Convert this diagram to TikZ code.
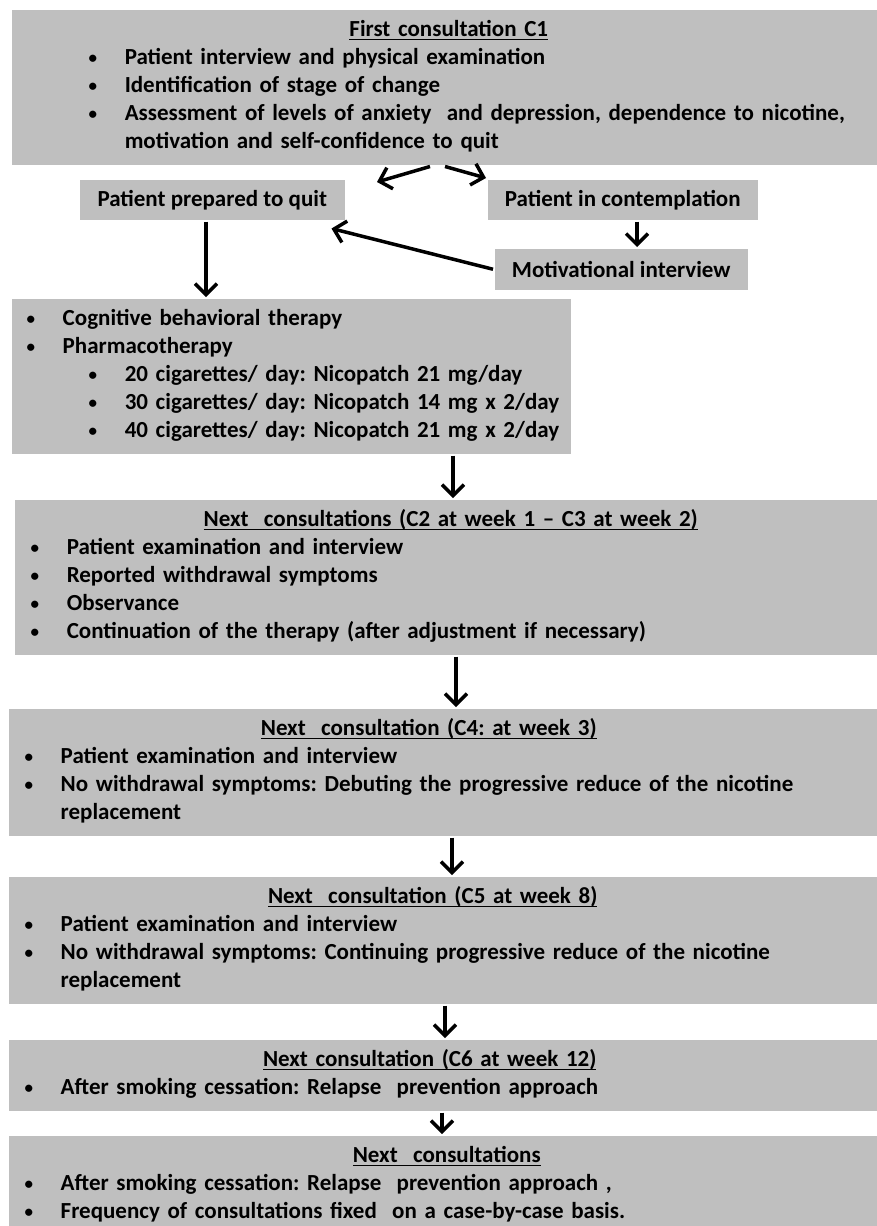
\documentclass[tikz,border=0pt]{standalone}
\usepackage{fontspec}
\setmainfont{Carlito}
\usetikzlibrary{arrows.meta}
\definecolor{boxgray}{RGB}{191,191,191}
\frenchspacing
% underlined heading, bullet line, continuation line
\newcommand{\ttl}[1]{\setbox0=\hbox{#1}\rlap{\rule[-3.5pt]{\wd0}{1.4pt}}\box0}
\newcommand{\hd}[2]{\makebox[#1][c]{\ttl{#2}}}
\newcommand{\dotb}{\raisebox{1.5pt}{\fontsize{17}{17}\selectfont\textbullet}}
\newcommand{\itm}[2]{\hspace*{#1}\makebox[36pt][l]{\dotb}#2}
\newcommand{\cnt}[2]{\hspace*{#1}\hspace*{36pt}#2}

\begin{document}
\begin{tikzpicture}[>={Straight Barb[length=11pt,width=22pt]},line width=3.5pt,x=1pt,y=-1pt,
  font=\bfseries\fontsize{23}{28}\selectfont,
  box/.style={fill=boxgray,anchor=north west,inner xsep=0pt,inner ysep=7.5pt,text width=#1,align=left},
  smallbox/.style={fill=boxgray,anchor=north west,inner sep=0pt,minimum width=#1,minimum height=40pt}]
\useasboundingbox (0,0) rectangle (876,1226);
% ---- first consultation ----
\node[box=875pt] (c1) at (10,8) {\begin{tabular}{@{}l@{}}
  \hd{874pt}{First consultation C1}\\
  \itm{77pt}{Patient interview and physical examination}\\
  \itm{77pt}{Identification of stage of change}\\
  \itm{77pt}{\makebox[750pt][s]{Assessment of levels of anxiety\ \ and depression, dependence to nicotine,}}\\
  \cnt{77pt}{motivation and self-confidence to quit}
\end{tabular}};
% ---- stage of change ----
\node[smallbox=265pt] (prep) at (78,178) {Patient prepared to quit};
\node[smallbox=270pt] (cont) at (486,178) {Patient in contemplation};
\node[smallbox=253pt,minimum height=41pt] (motiv) at (493,247) {Motivational interview};
\coordinate (splitL) at (377,182);
\draw[->] (c1.south -| 430,0) -- (splitL);
\draw[->] (c1.south -| 445,0) -- (cont.north west);
\draw[->] (cont.south -| 637,0) -- (motiv.north -| 637,0);
\draw[->] (motiv.west) -- ([xshift=-15pt,yshift=-7pt]prep.south east);
% ---- therapy ----
\node[box=559pt] (ther) at (10,297) {\begin{tabular}{@{}l@{}}
  \itm{15pt}{Cognitive behavioral therapy}\\
  \itm{15pt}{Pharmacotherapy}\\
  \itm{77pt}{20 cigarettes/ day: Nicopatch 21 mg/day}\\
  \itm{77pt}{30 cigarettes/ day: Nicopatch 14 mg x 2/day}\\
  \itm{77pt}{40 cigarettes/ day: Nicopatch 21 mg x 2/day}
\end{tabular}};
\draw[->] (prep.south -| 206,0) -- (ther.north -| 206,0);
% ---- follow-up consultations ----
\node[box=872pt] (c2) at (13,498) {\begin{tabular}{@{}l@{}}
  \hd{872pt}{Next\ \ consultations (C2 at week 1 -- C3 at week 2)}\\
  \itm{16pt}{Patient examination and interview}\\
  \itm{16pt}{Reported withdrawal symptoms}\\
  \itm{16pt}{Observance}\\
  \itm{16pt}{Continuation of the therapy (after adjustment if necessary)}
\end{tabular}};
\node[box=878pt] (c4) at (7,707) {\begin{tabular}{@{}l@{}}
  \hd{840pt}{Next\ \ consultation (C4: at week 3)}\\
  \itm{16pt}{Patient examination and interview}\\
  \itm{16pt}{No withdrawal symptoms: Debuting the progressive reduce of the nicotine}\\
  \cnt{16pt}{replacement}
\end{tabular}};
\node[box=878pt] (c5) at (7,875) {\begin{tabular}{@{}l@{}}
  \hd{848pt}{Next\ \ consultation (C5 at week 8)}\\
  \itm{16pt}{Patient examination and interview}\\
  \itm{16pt}{No withdrawal symptoms: Continuing progressive reduce of the nicotine}\\
  \cnt{16pt}{replacement}
\end{tabular}};
\node[box=878pt] (c6) at (7,1038) {\begin{tabular}{@{}l@{}}
  \hd{842pt}{Next consultation (C6 at week 12)}\\
  \itm{16pt}{After smoking cessation: Relapse\ \ prevention approach}
\end{tabular}};
\node[box=878pt] (last) at (7,1134) {\begin{tabular}{@{}l@{}}
  \hd{876pt}{Next\ \ consultations}\\
  \itm{16pt}{After smoking cessation: Relapse\ \ prevention approach ,}\\
  \itm{16pt}{Frequency of consultations fixed\ \ on a case-by-case basis.}
\end{tabular}};
\draw[->] (ther.south -| 453,0) -- (c2.north -| 453,0);
\draw[->] (c2.south -| 456,0) -- (c4.north -| 456,0);
\draw[->] (c4.south -| 452,0) -- (c5.north -| 452,0);
\draw[->] (c5.south -| 445,0) -- (c6.north -| 445,0);
\draw[->] (c6.south -| 442,0) -- (last.north -| 442,0);
\end{tikzpicture}
\end{document}
